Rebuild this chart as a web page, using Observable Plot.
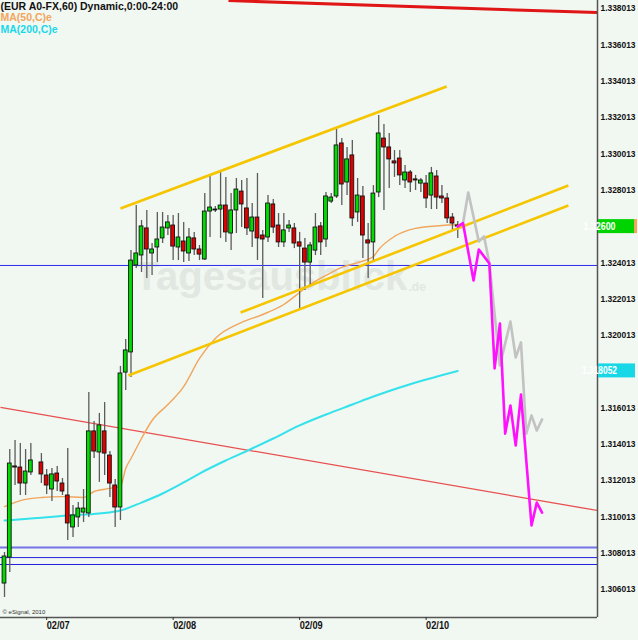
<!DOCTYPE html>
<html>
<head>
<meta charset="utf-8">
<script src="https://cdn.jsdelivr.net/npm/d3@7"></script>
<script src="https://cdn.jsdelivr.net/npm/@observablehq/plot@0.6"></script>
<style>
  html, body { margin: 0; padding: 0; background: #f1f7f1; }
</style>
</head>
<body>
<div id="chart"></div>
<script>
// EUR/USD hourly candles; hour index counted from the first bar of the window
const hours = [0,1,2,3,4,5,7,8,9,10,11,12,13,14,15,16,17,18,19,20,21,22,23,24,25,26,27,28,29,30,31,32,33,34,35,36,37,38,39,40,41,42,43,44,45,46,47,48,49,50,51,52,53,54,55,56,57,58,59,60,61,62,63,64,65,66,67,68,69,70,71,72,73,74,75,76,77,78,79,80,81,82,83,84,85,86];
const opens = [1.30634,1.30777,1.31279,1.31273,1.31185,1.31246,1.31301,1.31229,1.31152,1.31240,1.31185,1.31119,1.30943,1.30998,1.31025,1.31020,1.31472,1.31356,1.31472,1.31339,1.31174,1.31053,1.31796,1.31907,1.32386,1.32441,1.32590,1.32452,1.32485,1.32535,1.32590,1.32606,1.32485,1.32518,1.32452,1.32535,1.32474,1.32419,1.32683,1.32694,1.32694,1.32716,1.32562,1.32689,1.32793,1.32700,1.32573,1.32650,1.32551,1.32540,1.32722,1.32606,1.32513,1.32590,1.32590,1.32513,1.32479,1.32402,1.32468,1.32601,1.32529,1.32738,1.32766,1.33058,1.32843,1.32992,1.32678,1.32766,1.32524,1.32513,1.32788,1.33085,1.33036,1.32959,1.32975,1.32854,1.32898,1.32860,1.32837,1.32837,1.32771,1.32876,1.32766,1.32755,1.32650,1.32606];
const highs = [1.30805,1.31372,1.31422,1.31405,1.31372,1.31405,1.31350,1.31262,1.31268,1.31279,1.31213,1.31378,1.31064,1.31080,1.31152,1.31686,1.31527,1.31571,1.31631,1.31361,1.31207,1.31830,1.31978,1.32468,1.32716,1.32634,1.32689,1.32507,1.32678,1.32678,1.32661,1.32661,1.32672,1.32623,1.32590,1.32568,1.32496,1.32782,1.32876,1.32711,1.32898,1.32871,1.32782,1.32865,1.32854,1.32865,1.32727,1.32893,1.32579,1.32771,1.32749,1.32672,1.32672,1.32634,1.32617,1.32568,1.32535,1.32513,1.32672,1.32623,1.32788,1.32782,1.33140,1.33085,1.33036,1.33074,1.32865,1.32821,1.32617,1.32826,1.33212,1.33162,1.33113,1.33019,1.33019,1.32937,1.32909,1.32882,1.32865,1.32882,1.32926,1.32909,1.32826,1.32782,1.32672,1.32628];
const lows = [1.30557,1.30695,1.31174,1.31119,1.31119,1.31229,1.31185,1.31124,1.31086,1.31141,1.31119,1.30871,1.30888,1.30943,1.30970,1.30998,1.31323,1.31191,1.31229,1.31108,1.30943,1.30981,1.31697,1.31769,1.32369,1.32347,1.32314,1.32331,1.32402,1.32507,1.32551,1.32413,1.32413,1.32402,1.32408,1.32441,1.32413,1.32413,1.32540,1.32678,1.32535,1.32513,1.32468,1.32562,1.32595,1.32551,1.32485,1.32413,1.32204,1.32513,1.32562,1.32485,1.32485,1.32568,1.32479,1.32138,1.32248,1.32265,1.32441,1.32441,1.32485,1.32727,1.32755,1.32716,1.32771,1.32601,1.32623,1.32424,1.32314,1.32402,1.32760,1.32689,1.32810,1.32871,1.32826,1.32810,1.32788,1.32799,1.32788,1.32700,1.32694,1.32694,1.32727,1.32617,1.32579,1.32535];
const closes = [1.30783,1.31295,1.31273,1.31185,1.31251,1.31312,1.31235,1.31174,1.31235,1.31196,1.31141,1.30965,1.31009,1.31047,1.31047,1.31472,1.31361,1.31505,1.31350,1.31185,1.31053,1.31791,1.31918,1.32413,1.32452,1.32601,1.32474,1.32474,1.32529,1.32595,1.32623,1.32490,1.32540,1.32463,1.32540,1.32474,1.32446,1.32683,1.32705,1.32689,1.32716,1.32568,1.32689,1.32804,1.32722,1.32590,1.32650,1.32535,1.32529,1.32727,1.32595,1.32513,1.32579,1.32606,1.32507,1.32490,1.32402,1.32496,1.32595,1.32513,1.32766,1.32760,1.33047,1.32832,1.32970,1.32645,1.32771,1.32551,1.32507,1.32782,1.33113,1.33036,1.32970,1.32948,1.32882,1.32898,1.32843,1.32854,1.32854,1.32755,1.32893,1.32760,1.32755,1.32645,1.32617,1.32600];

// moving averages of the close
const ma50Hours = [0,3,7,11,15,17,20,22,23,24,26,28,31,34,37,40,45,49,53,56,58,61,64,67,70,71,74,78,83,86];
const ma50Values = [1.31058,1.31091,1.31108,1.31113,1.31108,1.31141,1.31158,1.31169,1.31268,1.31323,1.31433,1.31532,1.31620,1.31719,1.31874,1.31984,1.32072,1.32116,1.32171,1.32237,1.32281,1.32331,1.32375,1.32402,1.32435,1.32474,1.32546,1.32590,1.32606,1.32612];
const ma200Hours = [0,5,12,18,22,26,30,34,37,42,47,51,56,61,66,70,75,80,86];
const ma200Values = [1.30981,1.30992,1.31009,1.31020,1.31036,1.31080,1.31130,1.31191,1.31240,1.31312,1.31378,1.31433,1.31505,1.31565,1.31620,1.31664,1.31714,1.31758,1.318052];

// projected paths after the last bar
const forecastHours = [86,87,89,90,92,93,94,95,96,97,98,100,101,102];
const forecastValues = [1.32600,1.32619,1.32303,1.32474,1.32397,1.31819,1.32066,1.31460,1.31615,1.31394,1.31675,1.30954,1.31080,1.31025];
const altHours = [86,87,88,90,91,92,94,96,97,98,99,100,101,102];
const altValues = [1.32600,1.32619,1.32788,1.32518,1.32546,1.32397,1.31835,1.32077,1.31879,1.31962,1.31460,1.31560,1.31477,1.31538];

// drawn trend lines: [hour1, price1, hour2, price2]
const redTrendHeavy = [42.5, 1.33845, 112.52, 1.33779];
const redTrendThin = [-0.76, 1.31604, 112.52, 1.31036];
const channelTop = [22.0, 1.32700, 83.9, 1.33372];
const channelMid = [44.8, 1.32127, 107.0, 1.32826];
const channelLow = [23.5, 1.31780, 107.0, 1.32716];

// horizontal levels
const levelMain = [1.32386];
const levelSupport = [1.30833];
const levelsLow = [1.30777, 1.30739];

// axis ticks
const priceTicks = [1.338013,1.336013,1.334013,1.332013,1.330013,1.328013,1.324013,1.322013,1.320013,1.316013,1.314013,1.312013,1.310013,1.308013,1.306013];
const dateHours = [8, 32, 56, 80];
const dateLabels = ["02/07", "02/08", "02/09", "02/10"];

const lastPrice = closes[closes.length - 1];
const lastMa200 = ma200Values[ma200Values.length - 1];

const candles = hours.map((h, k) => ({hour: h, open: opens[k], high: highs[k], low: lows[k], close: closes[k]}));
const ma50 = ma50Hours.map((h, k) => ({hour: h, value: ma50Values[k]}));
const ma200 = ma200Hours.map((h, k) => ({hour: h, value: ma200Values[k]}));
const forecast = forecastHours.map((h, k) => ({hour: h, value: forecastValues[k]}));
const alt = altHours.map((h, k) => ({hour: h, value: altValues[k]}));
const seg = (s) => [{x1: s[0], y1: s[1], x2: s[2], y2: s[3]}];

const xDomain = [-0.76, 112.52];
const yDomain = [1.30447, 1.338454];
const font = "'Liberation Sans', Arial, sans-serif";

const link = (s, stroke, w) => Plot.link(seg(s), {x1: "x1", y1: "y1", x2: "x2", y2: "y2", stroke, strokeWidth: w, clip: true});

const chart = Plot.plot({
  width: 638,
  height: 640,
  marginLeft: 0,
  marginRight: 41,
  marginTop: 0,
  marginBottom: 23,
  style: {background: "#f1f7f1", fontFamily: font, color: "#111"},
  x: {domain: xDomain, axis: null},
  y: {domain: yDomain, axis: null},
  marks: [
    // faint watermark
    Plot.text(["Tagesausblick"], {frameAnchor: "top-left", dx: 134, dy: 277, textAnchor: "start", lineAnchor: "middle",
      fontSize: 40, fontWeight: "bold", fill: "#e1e8e1"}),
    Plot.text([".de"], {frameAnchor: "top-left", dx: 408, dy: 287, textAnchor: "start", lineAnchor: "middle",
      fontSize: 12, fontWeight: "bold", fill: "#e1e8e1"}),

    // horizontal levels
    Plot.ruleY(levelMain, {stroke: "#2b2bf0", strokeWidth: 1}),
    Plot.ruleY(levelSupport, {stroke: "#7474e6", strokeWidth: 2}),
    Plot.ruleY(levelsLow, {stroke: "#2020e0", strokeWidth: 1}),

    // red trend lines
    link(redTrendThin, "#e85050", 1.2),
    link(redTrendHeavy, "#e01515", 3),

    // moving averages
    Plot.line(ma200, {x: "hour", y: "value", stroke: "#34e2ec", strokeWidth: 2, curve: "monotone-x"}),
    Plot.line(ma50, {x: "hour", y: "value", stroke: "#f2a65c", strokeWidth: 1.4, curve: "monotone-x"}),

    // candles
    Plot.ruleX(candles, {x: "hour", y1: "low", y2: "high", stroke: "#5c5c5c", strokeWidth: 1.3}),
    Plot.rect(candles, {
      x1: d => d.hour - 0.36, x2: d => d.hour + 0.36, y1: "open", y2: "close",
      fill: d => d.close >= d.open ? "#00dc00" : "#e00000", stroke: "#111", strokeWidth: 0.9
    }),

    // channel lines
    link(channelTop, "#f5c600", 2.6),
    link(channelMid, "#f5c600", 2.6),
    link(channelLow, "#f5c600", 2.6),

    // projections
    Plot.line(alt, {x: "hour", y: "value", stroke: "#c2c2c2", strokeWidth: 2.6}),
    Plot.line(forecast, {x: "hour", y: "value", stroke: "#ff10ff", strokeWidth: 2.6}),

    // frame edges
    Plot.ruleX([xDomain[1]], {stroke: "#555", strokeWidth: 1.5}),
    Plot.ruleY([yDomain[0]], {stroke: "#555", strokeWidth: 1.5}),

    // axes
    Plot.axisY(priceTicks, {anchor: "right", tickSize: 0, tickPadding: 3, tickFormat: d => d.toFixed(6),
      fontSize: 9, fontWeight: "bold", fill: "#111"}),
    Plot.axisX(dateHours, {anchor: "bottom", tickSize: 3, tickPadding: 1, textAnchor: "start",
      tickFormat: d => dateLabels[dateHours.indexOf(d)], fontSize: 10.5, fontWeight: "bold", fill: "#111", stroke: "#333"}),

    // header
    Plot.text(["(EUR A0-FX,60) Dynamic,0:00-24:00"], {frameAnchor: "top-left", dx: 0, dy: 6, textAnchor: "start",
      lineAnchor: "middle", fontSize: 10.5, fontWeight: "bold", fill: "#111", ariaLabel: "header"}),
    Plot.text(["MA(50,C)e"], {frameAnchor: "top-left", dx: 0, dy: 17, textAnchor: "start",
      lineAnchor: "middle", fontSize: 10.5, fontWeight: "bold", fill: "#f2a65c", ariaLabel: "ma50-label"}),
    Plot.text(["MA(200,C)e"], {frameAnchor: "top-left", dx: 0, dy: 29, textAnchor: "start",
      lineAnchor: "middle", fontSize: 10.5, fontWeight: "bold", fill: "#1ad8ea", ariaLabel: "ma200-label"}),
    Plot.text(["© eSignal, 2010"], {frameAnchor: "bottom-left", dx: 2, dy: -4, textAnchor: "start",
      lineAnchor: "bottom", fontSize: 6, fill: "#333"})
  ]
});

const svg = d3.select(chart);
const fit = (sel, len) => sel.attr("textLength", len).attr("lengthAdjust", "spacingAndGlyphs");
fit(svg.selectAll('g[aria-label="y-axis tick label"] text'), 35);
fit(svg.selectAll('g[aria-label="x-axis tick label"] text'), 23);
fit(svg.selectAll('g[aria-label="header"] text'), 161);
fit(svg.selectAll('g[aria-label="ma50-label"] text'), 46);
fit(svg.selectAll('g[aria-label="ma200-label"] text'), 51);

// value tags on the price axis
const sx = chart.scale("x"), sy = chart.scale("y");
const right = sx.apply(xDomain[1]);
function tag(value, label, bg, edge, len) {
  const cy = sy.apply(value);
  const g = svg.append("g");
  g.append("rect").attr("x", right + 1).attr("y", cy - 7).attr("width", 37).attr("height", 14).attr("fill", bg);
  if (edge) g.append("rect").attr("x", right + 37).attr("y", cy - 7).attr("width", 3).attr("height", 14).attr("fill", edge);
  g.append("text").attr("x", right + 2.5).attr("y", cy).attr("dy", "0.36em")
    .attr("fill", "#ffffff").attr("font-size", 10).attr("font-weight", "bold").attr("font-family", font)
    .attr("textLength", len).attr("lengthAdjust", "spacingAndGlyphs").text(label);
}
tag(lastPrice, lastPrice.toFixed(5), "#00d400", "#f2a65c", 32);
tag(lastMa200, lastMa200.toFixed(6), "#18d8e8", null, 35);

document.getElementById("chart").appendChild(chart);
</script>
</body>
</html>
